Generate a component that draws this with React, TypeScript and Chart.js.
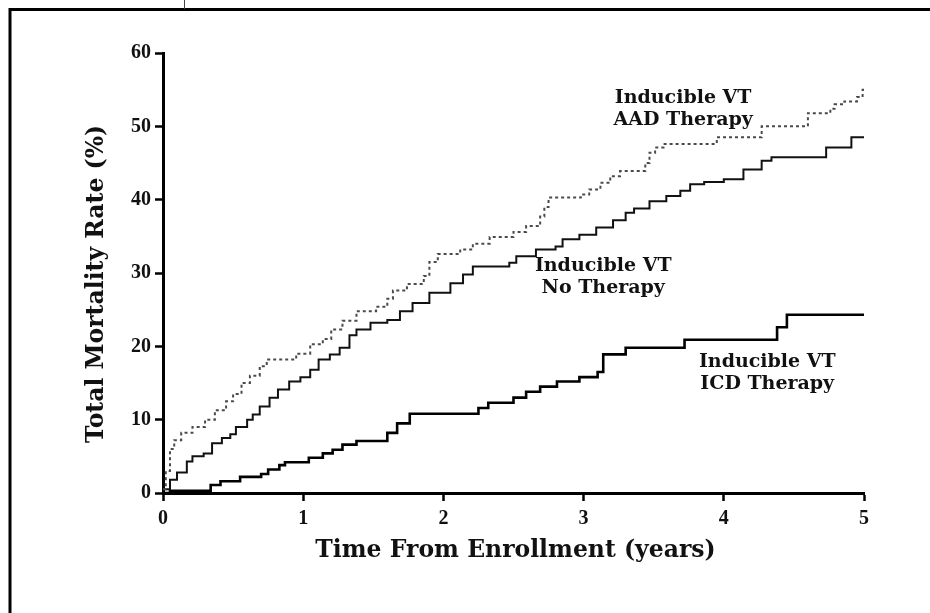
import React, { useEffect, useRef } from "react";
import { Chart, registerables } from "chart.js";

Chart.register(...registerables);

// Kaplan-Meier style cumulative mortality (%), by years from enrollment
const aadTimes = [0, 0.02, 0.05, 0.08, 0.13, 0.21, 0.3, 0.37, 0.45, 0.5, 0.56, 0.62, 0.69, 0.74, 0.95, 1.05, 1.14, 1.2, 1.28, 1.38, 1.52, 1.6, 1.64, 1.74, 1.86, 1.9, 1.96, 2.12, 2.21, 2.33, 2.5, 2.59, 2.69, 2.72, 2.75, 2.98, 3.04, 3.12, 3.19, 3.26, 3.44, 3.47, 3.51, 3.57, 3.95, 4.27, 4.6, 4.76, 4.79, 4.86, 4.95, 4.99, 5.0];
const aadRates = [0.5, 3, 6, 7.2, 8.2, 9, 10, 11.3, 12.5, 13.5, 15, 16, 17.3, 18.2, 19, 20.3, 21, 22.3, 23.5, 24.8, 25.4, 26.5, 27.6, 28.5, 29.6, 31.5, 32.6, 33.2, 34, 34.9, 35.6, 36.4, 37.7, 39, 40.3, 40.7, 41.4, 42.3, 43.2, 43.9, 45, 46.4, 47.1, 47.6, 48.5, 50, 51.8, 52.4, 53, 53.4, 54, 55, 55];

const noTherapyTimes = [0, 0.05, 0.1, 0.17, 0.21, 0.29, 0.35, 0.42, 0.48, 0.52, 0.6, 0.64, 0.69, 0.76, 0.82, 0.9, 0.98, 1.05, 1.11, 1.19, 1.26, 1.33, 1.38, 1.48, 1.6, 1.69, 1.78, 1.9, 2.05, 2.14, 2.21, 2.47, 2.52, 2.66, 2.8, 2.85, 2.97, 3.09, 3.21, 3.3, 3.36, 3.47, 3.59, 3.69, 3.76, 3.86, 4.0, 4.14, 4.27, 4.34, 4.73, 4.91, 5.0];
const noTherapyRates = [0.5, 1.8, 2.8, 4.3, 5, 5.4, 6.8, 7.5, 8, 9, 10, 10.7, 11.8, 13, 14.1, 15.2, 15.8, 16.8, 18.2, 18.9, 19.8, 21.5, 22.3, 23.2, 23.6, 24.8, 25.9, 27.3, 28.6, 29.8, 30.9, 31.4, 32.3, 33.2, 33.6, 34.6, 35.2, 36.2, 37.2, 38.2, 38.8, 39.8, 40.5, 41.2, 42.1, 42.4, 42.8, 44.1, 45.3, 45.8, 47.1, 48.5, 48.5];

const icdTimes = [0, 0.05, 0.34, 0.41, 0.55, 0.7, 0.75, 0.83, 0.87, 1.04, 1.14, 1.21, 1.28, 1.38, 1.6, 1.67, 1.76, 2.25, 2.32, 2.5, 2.59, 2.69, 2.81, 2.97, 3.1, 3.14, 3.3, 3.72, 4.38, 4.45, 5.0];
const icdRates = [0, 0.3, 1.1, 1.6, 2.2, 2.6, 3.2, 3.8, 4.2, 4.8, 5.4, 5.9, 6.6, 7.1, 8.2, 9.5, 10.8, 11.6, 12.3, 13, 13.8, 14.5, 15.2, 15.8, 16.5, 18.9, 19.8, 20.9, 22.6, 24.3, 24.3];

const xTicks = [0, 1, 2, 3, 4, 5];
const yTicks = [0, 10, 20, 30, 40, 50, 60];

const xTitle = "Time From Enrollment (years)";
const yTitle = "Total Mortality Rate (%)";
const aadLabel = ["Inducible VT", "AAD Therapy"];
const noTherapyLabel = ["Inducible VT", "No Therapy"];
const icdLabel = ["Inducible VT", "ICD Therapy"];

const FONT = "'DejaVu Serif', 'Liberation Serif', serif";
const TICK_FONT = "'Liberation Serif', 'DejaVu Serif', serif";

const toPoints = (xs: number[], ys: number[]) => xs.map((x, i) => ({ x, y: ys[i] }));

// white page with the heavy frame rule along the top and left
const framePlugin = {
  id: "frame",
  beforeDraw(chart: any) {
    const { ctx, width, height } = chart;
    ctx.save();
    ctx.fillStyle = "#fff";
    ctx.fillRect(0, 0, width, height);
    ctx.strokeStyle = "#000";
    ctx.lineWidth = 3;
    ctx.beginPath();
    ctx.moveTo(10, height);
    ctx.lineTo(10, 9.5);
    ctx.lineTo(width, 9.5);
    ctx.stroke();
    ctx.lineWidth = 1;
    ctx.strokeStyle = "#444";
    ctx.beginPath();
    ctx.moveTo(184.5, 0);
    ctx.lineTo(184.5, 9);
    ctx.stroke();
    ctx.restore();
  },
};

// axis titles and the curve captions
const textPlugin = {
  id: "texts",
  afterDraw(chart: any) {
    const { ctx, scales, chartArea } = chart;
    const xs = scales.x;
    const ys = scales.y;
    ctx.save();
    ctx.fillStyle = "#111";
    ctx.textAlign = "center";
    ctx.textBaseline = "middle";

    ctx.font = `bold 23.5px ${FONT}`;
    ctx.fillText(xTitle, (chartArea.left + chartArea.right) / 2 + 2, 551);

    ctx.save();
    ctx.translate(97, 284);
    ctx.rotate(-Math.PI / 2);
    ctx.fillText(yTitle, 0, 0);
    ctx.restore();

    ctx.font = `bold 19px ${FONT}`;
    const caption = (lines: string[], t: number, v: number) => {
      const cx = xs.getPixelForValue(t);
      const cy = ys.getPixelForValue(v);
      ctx.fillText(lines[0], cx, cy - 11);
      ctx.fillText(lines[1], cx, cy + 11);
    };
    caption(aadLabel, 3.71, 52.4);
    caption(noTherapyLabel, 3.14, 29.4);
    caption(icdLabel, 4.31, 16.4);
    ctx.restore();
  },
};

export default function App() {
  const canvasRef = useRef<HTMLCanvasElement | null>(null);

  useEffect(() => {
    if (!canvasRef.current) return;
    const chart = new Chart(canvasRef.current, {
      type: "line",
      data: {
        datasets: [
          {
            label: "Inducible VT, AAD Therapy",
            data: toPoints(aadTimes, aadRates),
            borderColor: "#4a4a4a",
            borderWidth: 2,
            borderDash: [3, 3],
            stepped: true,
            pointRadius: 0,
            fill: false,
          },
          {
            label: "Inducible VT, No Therapy",
            data: toPoints(noTherapyTimes, noTherapyRates),
            borderColor: "#111",
            borderWidth: 2,
            stepped: true,
            pointRadius: 0,
            fill: false,
          },
          {
            label: "Inducible VT, ICD Therapy",
            data: toPoints(icdTimes, icdRates),
            borderColor: "#000",
            borderWidth: 2.6,
            stepped: true,
            pointRadius: 0,
            fill: false,
          },
        ],
      },
      options: {
        responsive: false,
        animation: false,
        devicePixelRatio: 1,
        layout: { padding: { left: 0, top: 53, right: 66, bottom: 0 } },
        plugins: {
          legend: { display: false },
          tooltip: { enabled: false },
        },
        scales: {
          x: {
            type: "linear",
            min: 0,
            max: 5,
            afterBuildTicks: (scale: any) => {
              scale.ticks = xTicks.map((value) => ({ value }));
            },
            afterFit: (scale: any) => {
              scale.height = 120;
            },
            border: { display: true, width: 3, color: "#000" },
            grid: {
              display: true,
              drawOnChartArea: false,
              drawTicks: true,
              tickLength: 8,
              tickWidth: 2.5,
              tickColor: "#000",
            },
            ticks: {
              color: "#111",
              padding: 6,
              font: { family: TICK_FONT, size: 20, weight: "bold" },
            },
          },
          y: {
            type: "linear",
            min: 0,
            max: 60,
            afterBuildTicks: (scale: any) => {
              scale.ticks = yTicks.map((value) => ({ value }));
            },
            afterFit: (scale: any) => {
              scale.width = 163;
            },
            border: { display: true, width: 3, color: "#000" },
            grid: {
              display: true,
              drawOnChartArea: false,
              drawTicks: true,
              tickLength: 8,
              tickWidth: 2.5,
              tickColor: "#000",
            },
            ticks: {
              color: "#111",
              padding: 4,
              font: { family: TICK_FONT, size: 20, weight: "bold" },
            },
          },
        },
      },
      plugins: [framePlugin, textPlugin],
    });
    return () => chart.destroy();
  }, []);

  return (
    <div style={{ position: "absolute", left: 0, top: 0, width: 930, height: 613, background: "#fff" }}>
      <canvas ref={canvasRef} width={930} height={613} style={{ display: "block" }} />
    </div>
  );
}
